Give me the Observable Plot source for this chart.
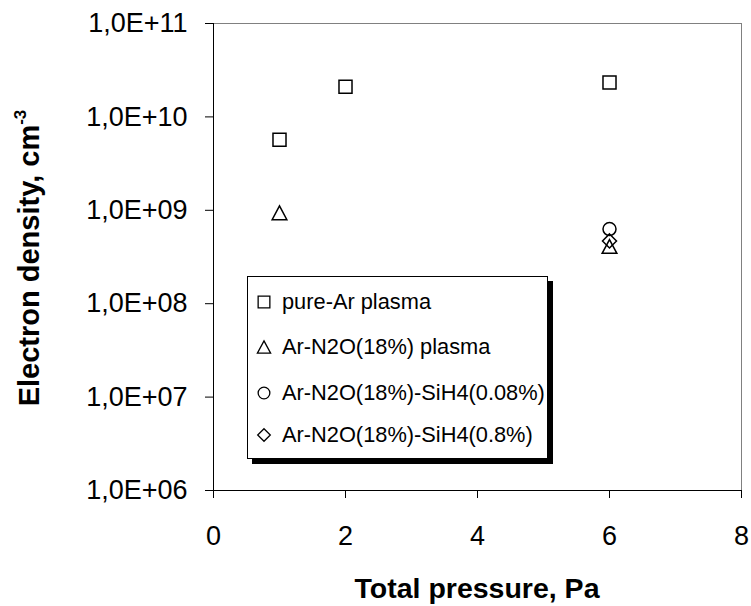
<!DOCTYPE html>
<html><head><meta charset="utf-8">
<script src="https://cdn.jsdelivr.net/npm/d3@7"></script>
<script src="https://cdn.jsdelivr.net/npm/@observablehq/plot@0.6"></script>
<style>
body{margin:0;background:#fff;}
#wrap{position:relative;width:751px;height:606px;font-family:"Liberation Sans",Arial,sans-serif;}
#legend{position:absolute;left:247px;top:276px;width:299px;height:181px;border:1px solid #000;background:#fff;box-shadow:5px 5px 0 #000;}
.row{position:absolute;left:0;height:30px;width:299px;font-size:21.8px;white-space:nowrap;color:#000;}
.row svg{position:absolute;left:8px;top:7px;}
.row span{position:absolute;left:34px;top:3px;line-height:24px;}
</style></head><body><div id="wrap"></div>
<script>
// ---- data ----
const seriesNames = ["pure-Ar plasma", "Ar-N2O(18%) plasma", "Ar-N2O(18%)-SiH4(0.08%)", "Ar-N2O(18%)-SiH4(0.8%)"];
const pressurePureAr = [1, 2, 6];
const densityPureAr = [5.7e9, 2.1e10, 2.33e10];
const pressureArN2O = [1, 6];
const densityArN2O = [9.4e8, 4.1e8];
const pressureSiH4_008 = [6];
const densitySiH4_008 = [6.3e8];
const pressureSiH4_08 = [6];
const densitySiH4_08 = [4.7e8];
const xTicks = [0, 2, 4, 6, 8];
const yTicks = [1e6, 1e7, 1e8, 1e9, 1e10, 1e11];
const yTickLabels = ["1,0E+06", "1,0E+07", "1,0E+08", "1,0E+09", "1,0E+10", "1,0E+11"];
const xTitle = "Total pressure, Pa";
const yTitle = "Electron density, cm";
const yTitleSup = "-3";

// ---- symbols (Excel-like, centred on bounding box) ----
const rOf = size => Math.sqrt(size / Math.PI);
const symSquare = {draw(c, size){ const s = 0.93 * rOf(size); c.moveTo(-s,-s); c.lineTo(s,-s); c.lineTo(s,s); c.lineTo(-s,s); c.closePath(); }};
const symTriangle = {draw(c, size){ const r = rOf(size), w = 1.05*r, h = 0.98*r; c.moveTo(0,-h); c.lineTo(w,h); c.lineTo(-w,h); c.closePath(); }};
const symCircle = {draw(c, size){ const r = 0.93*rOf(size); c.moveTo(r,0); c.arc(0,0,r,0,2*Math.PI); c.closePath(); }};
const symDiamond = {draw(c, size){ const r = 1.0*rOf(size); c.moveTo(0,-r); c.lineTo(r,0); c.lineTo(0,r); c.lineTo(-r,0); c.closePath(); }};
const symbols = [symSquare, symTriangle, symCircle, symDiamond];

const series = [
  {x: pressurePureAr, y: densityPureAr},
  {x: pressureArN2O, y: densityArN2O},
  {x: pressureSiH4_008, y: densitySiH4_008},
  {x: pressureSiH4_08, y: densitySiH4_08}
].map((s, i) => ({name: seriesNames[i], symbol: symbols[i], rows: s.x.map((x, j) => ({x, y: s.y[j]}))}));

const plot = Plot.plot({
  width: 751, height: 606,
  marginLeft: 213, marginRight: 10, marginTop: 23, marginBottom: 116,
  style: {fontFamily: '"Liberation Sans", Arial, sans-serif', fontSize: "27px", color: "#000", background: "#fff"},
  x: {domain: [0, 8], ticks: xTicks, label: null},
  y: {type: "log", domain: [1e6, 1e11], ticks: yTicks, label: null},
  marks: [
    Plot.ruleY([1e11], {stroke: "#808080", strokeWidth: 1}),
    Plot.ruleX([8], {stroke: "#808080", strokeWidth: 1}),
    Plot.ruleX([0], {stroke: "#000", strokeWidth: 1}),
    Plot.ruleY([1e6], {stroke: "#000", strokeWidth: 1}),
    Plot.axisX({ticks: xTicks, tickSize: 8, tickPadding: 27, label: null, stroke: "#000", fill: "#000", fontSize: 27, tickFormat: d => String(d)}),
    Plot.axisY({ticks: yTicks, tickSize: 8, tickPadding: 18, label: null, stroke: "#000", fill: "#000", fontSize: 27,
      tickFormat: d => yTickLabels[yTicks.findIndex(t => Math.abs(t - d) / t < 1e-6)]}),
    ...series.map(s => Plot.dot(s.rows, {x: "x", y: "y", r: 7, symbol: s.symbol, fill: "none", stroke: "#000", strokeWidth: 1.5}))
  ]
});

const wrap = document.getElementById("wrap");
wrap.appendChild(plot);

const svg = d3.select(plot);
svg.append("text")
  .attr("x", 477).attr("y", 598)
  .attr("text-anchor", "middle")
  .attr("font-weight", "bold").attr("font-size", "28.5px").attr("fill", "#000")
  .text(xTitle);
const yt = svg.append("text")
  .attr("transform", "translate(39,258) rotate(-90)")
  .attr("text-anchor", "middle")
  .attr("font-weight", "bold").attr("font-size", "29px").attr("fill", "#000");
yt.append("tspan").text(yTitle);
yt.append("tspan").attr("dy", "-0.75em").attr("font-size", "17px").text(yTitleSup);

// ---- legend (inside plot area, Excel style with shadow) ----
const legend = d3.select(wrap).append("div").attr("id", "legend");
const rowCenters = [25, 70, 116, 158];
series.forEach((s, i) => {
  const row = legend.append("div").attr("class", "row").style("top", (rowCenters[i] - 15) + "px");
  const p = d3.path();
  s.symbol.draw(p, Math.PI * 6.3 * 6.3);
  row.append("svg").attr("width", 16).attr("height", 16).attr("viewBox", "-8 -8 16 16")
    .append("path").attr("d", p.toString()).attr("fill", "none").attr("stroke", "#000").attr("stroke-width", 1.3);
  row.append("span").text(s.name);
});
</script>
</body></html>
